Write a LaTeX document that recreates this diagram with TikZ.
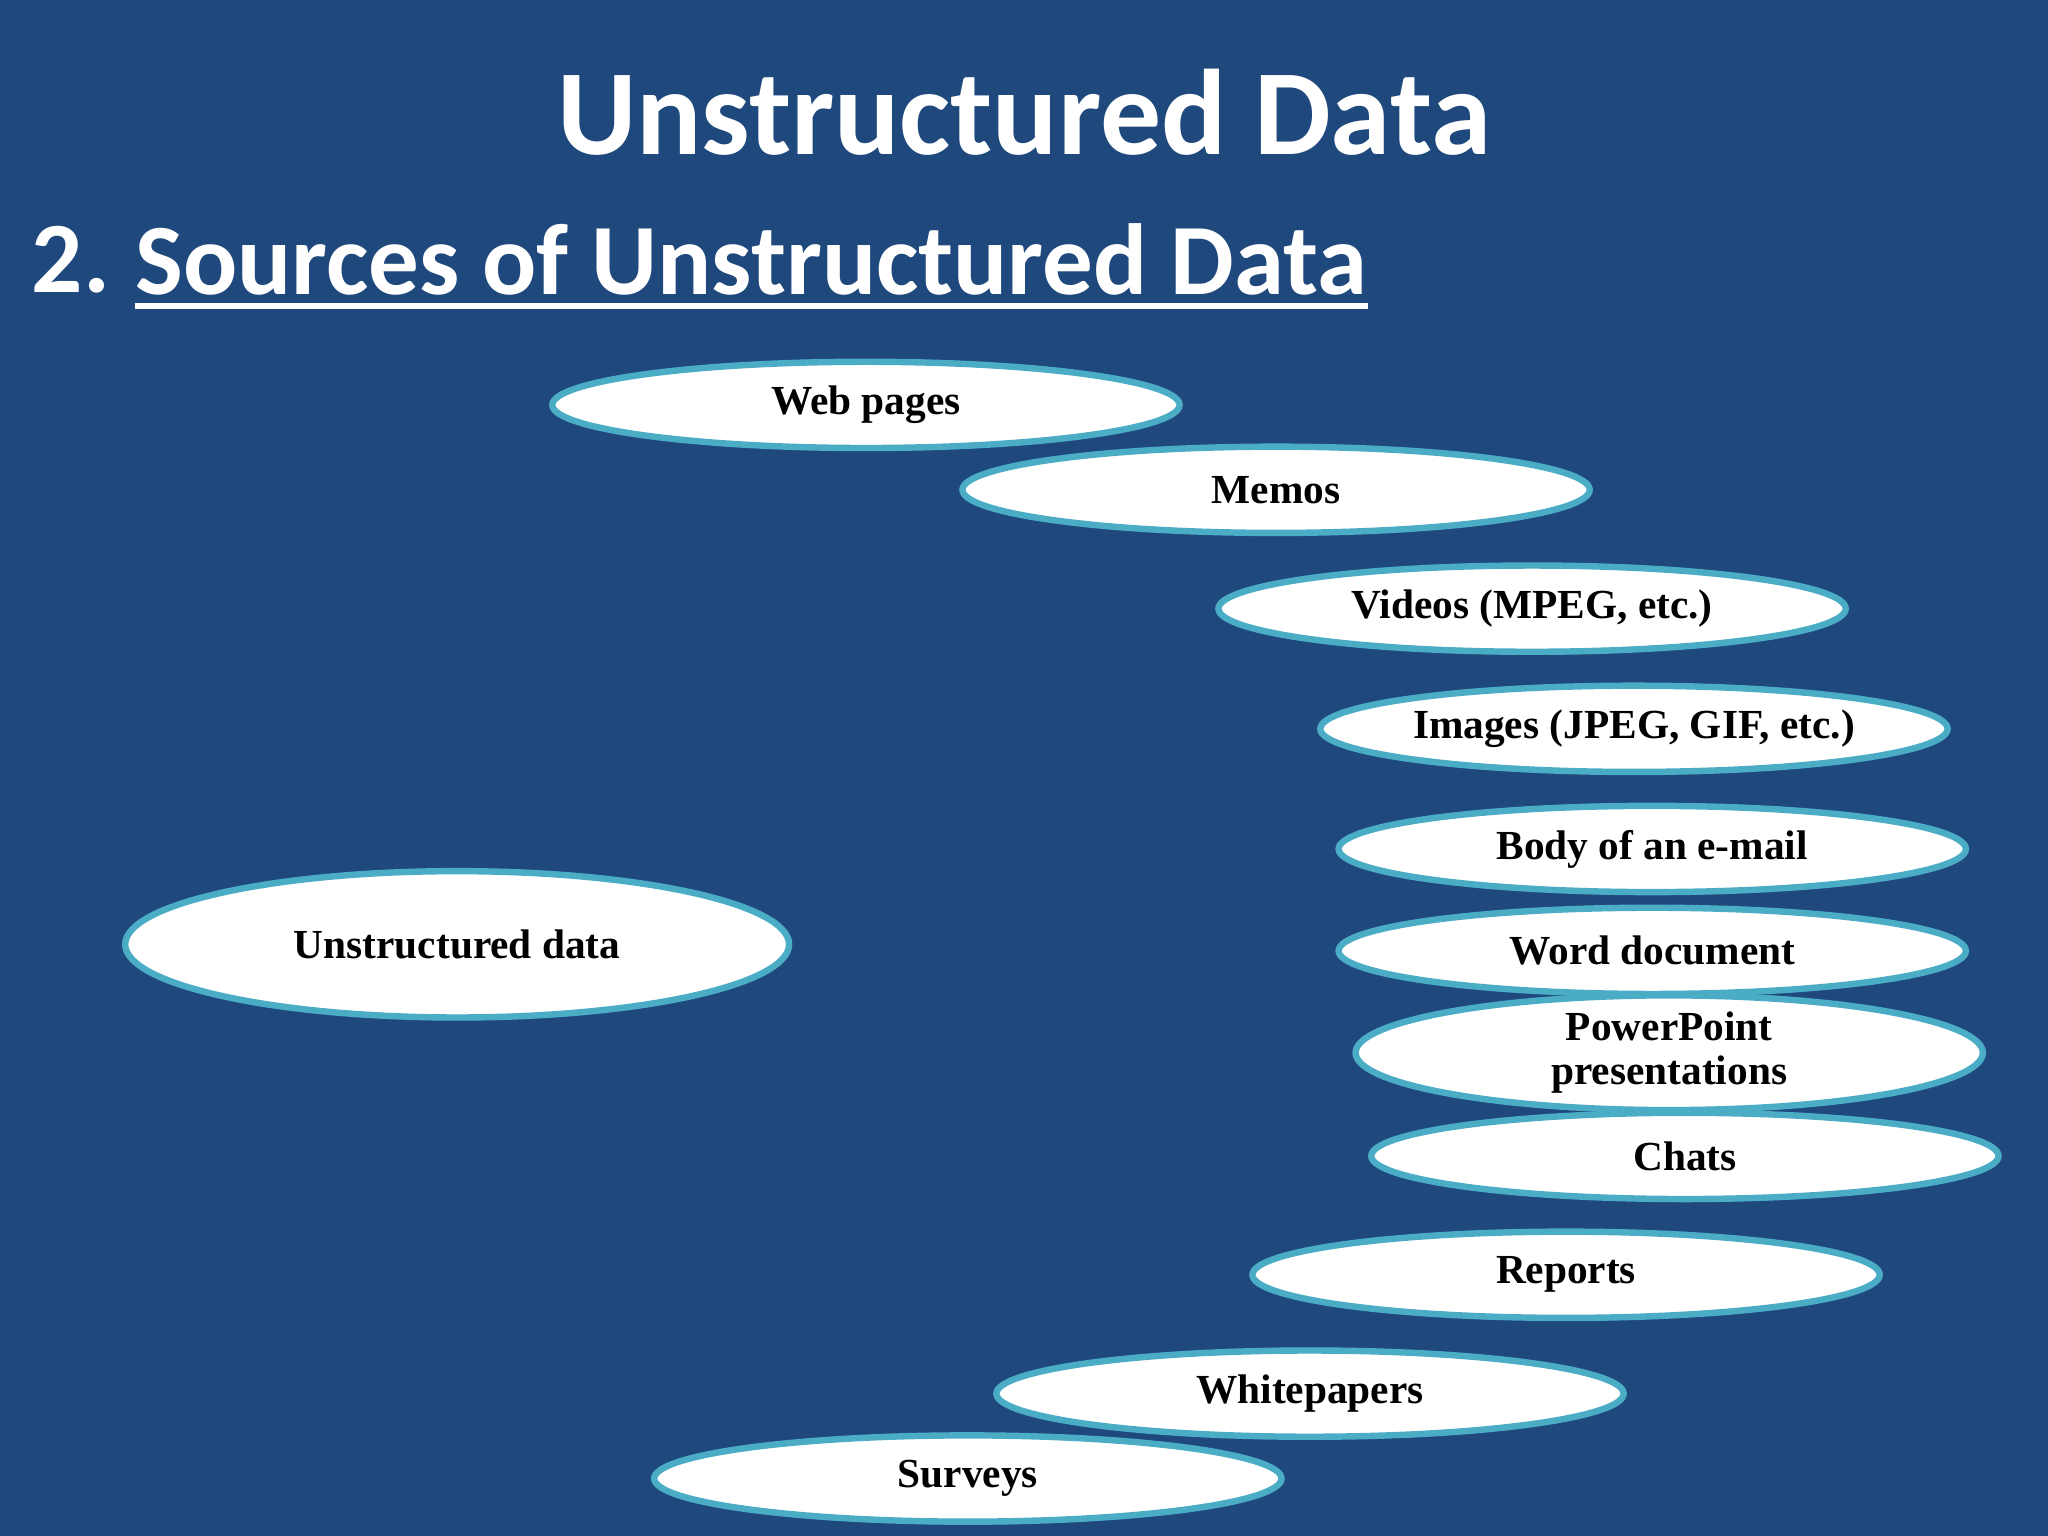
\documentclass[tikz,border=0pt]{standalone}
\usepackage{fontspec}
\setmainfont{Liberation Serif}
\newfontfamily\carl{Carlito}
\usetikzlibrary{shapes.geometric,backgrounds}
\definecolor{bg}{HTML}{1F497D}
\definecolor{rim}{HTML}{4BACC6}
\definecolor{ln}{HTML}{3E93B3}
\tikzset{x=0.01cm,y=-0.01cm,
 src/.style={ellipse,draw=rim,line width=1.4pt,fill=white,inner sep=0pt,minimum width=4.8cm,minimum height=0.66cm,font=\bfseries\fontsize{9pt}{9.5pt}\selectfont,align=center},
 conn/.style={ln,line width=0.85pt}}
\begin{document}
\begin{tikzpicture}
\fill[bg] (0,0) rectangle (1568,1176);
\useasboundingbox (0,0) rectangle (1568,1176);
\node[white,font=\carl\bfseries\fontsize{26.5pt}{30pt}\selectfont] (t) at (784,86) {Unstructured Data};
\node[white,anchor=west,font=\carl\bfseries\fontsize{22pt}{26pt}\selectfont] (n) at (12,199) {2.};
\node[white,anchor=west,font=\carl\bfseries\fontsize{22pt}{26pt}\selectfont,inner sep=0pt] (s) at (103,199) {Sources of Unstructured Data};
\draw[white,line width=1.2pt] ([yshift=-2pt]s.south west) -- ([yshift=-2pt]s.south east);
\node[src,minimum width=5.08cm,minimum height=1.12cm] (u) at (350,723) {Unstructured data};
\node[src] (a) at (663,310) {Web pages};
\node[src] (b) at (977,375) {Memos};
\node[src] (c) at (1173,466) {Videos (MPEG, etc.)};
\node[src] (d) at (1251,558) {Images (JPEG, GIF, etc.)};
\node[src] (e) at (1265,650) {Body of an e-mail};
\node[src] (f) at (1265,728) {Word document};
\node[src] (g) at (1278,806) {PowerPoint\\presentations};
\node[src] (h) at (1290,885) {Chats};
\node[src] (i) at (1199,976) {Reports};
\node[src] (j) at (1003,1067) {Whitepapers};
\node[src] (k) at (741,1132) {Surveys};
\begin{scope}[on background layer]
\foreach \q/\o in {a/-10,b/0,c/5,d/10,e/15,f/20,g/22,h/24,i/26,j/28,k/30}{
  \draw[conn] (u.center) -- (\q.center);}
\end{scope}
\end{tikzpicture}
\end{document}
